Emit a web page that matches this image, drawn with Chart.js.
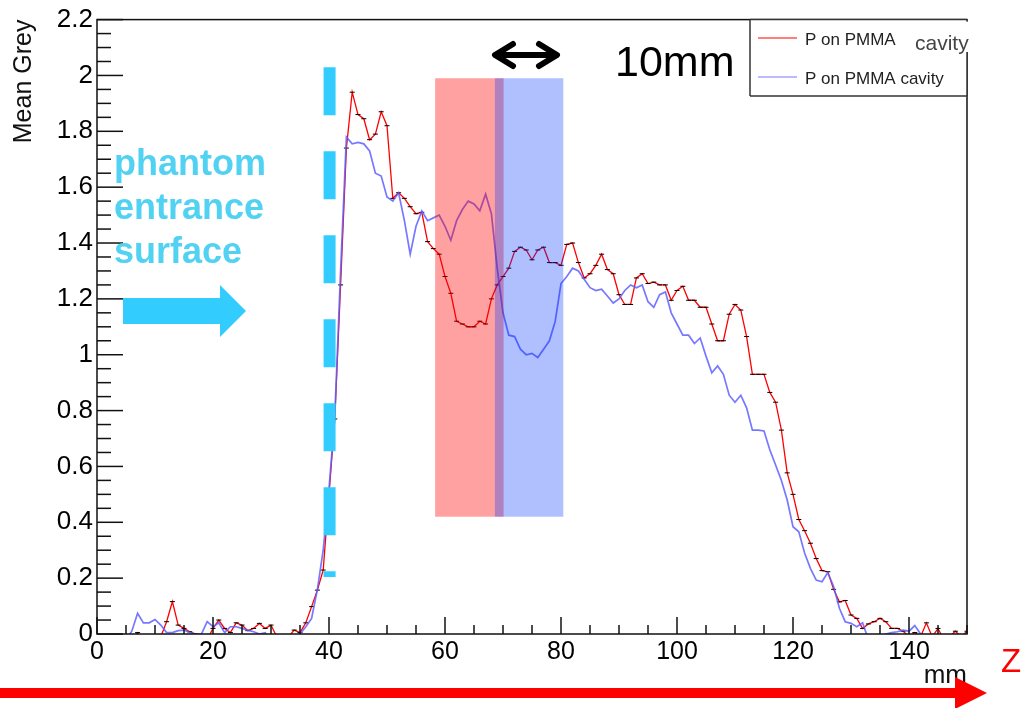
<!DOCTYPE html>
<html>
<head>
<meta charset="utf-8">
<title>Mean Grey vs depth</title>
<script src="https://cdn.jsdelivr.net/npm/chart.js@4.4.1/dist/chart.umd.min.js"></script>
<style>
  html, body { margin: 0; padding: 0; background: #fff; }
  canvas { display: block; }
</style>
</head>
<body>
<canvas id="chart" width="1025" height="708"></canvas>
<script>
// histogram bins are 1 mm wide, the first one sits at 5 mm
const firstBinMm = 5;

// P on PMMA (red, with black bin markers)
const redValues = [
  -0.03, -0.02, 0.005, -0.03, -0.04, -0.03, -0.01, 0.044, 0.116, 0.032,
  0.02, 0.008, 0.0, -0.03, -0.02, 0.02, 0.05, 0.02, 0.005, 0.04,
  0.032, 0.012, 0.02, 0.038, 0.02, 0.032, -0.01, -0.04, -0.01, 0.014,
  0.005, 0.04, 0.098, 0.157, 0.229, 0.50, 0.77, 1.25, 1.74, 1.94,
  1.86, 1.845, 1.77, 1.79, 1.87, 1.82, 1.56, 1.58, 1.56, 1.53,
  1.505, 1.51, 1.405, 1.38, 1.36, 1.28, 1.22, 1.12, 1.11, 1.10,
  1.10, 1.12, 1.11, 1.20, 1.25, 1.28, 1.31, 1.37, 1.385, 1.375,
  1.34, 1.375, 1.385, 1.33, 1.33, 1.32, 1.395, 1.40, 1.33, 1.275,
  1.29, 1.32, 1.36, 1.305, 1.29, 1.215, 1.18, 1.18, 1.275, 1.29,
  1.255, 1.26, 1.25, 1.25, 1.195, 1.23, 1.245, 1.195, 1.195, 1.17,
  1.17, 1.11, 1.05, 1.05, 1.145, 1.18, 1.16, 1.065, 0.93, 0.93,
  0.93, 0.865, 0.83, 0.73, 0.577, 0.50, 0.41, 0.37, 0.325, 0.27,
  0.227, 0.223, 0.16, 0.115, 0.12, 0.068, 0.056, 0.02, 0.036, 0.044,
  0.056, 0.044, 0.02, 0.02, 0.01, -0.01, 0.005, -0.01, 0.04, -0.01,
  0.02, -0.02, -0.01, 0.01, -0.01, 0.01
];

// P on PMMA cavity (blue)
const blueValues = [
  -0.02, 0.01, 0.074, 0.04, 0.04, 0.052, 0.032, 0.005, 0.005, 0.012,
  0.014, 0.005, 0.0, 0.0, 0.044, 0.026, 0.04, 0.005, 0.026, 0.026,
  0.02, 0.014, 0.008, 0.0, 0.005, -0.03, -0.05, -0.04, -0.03, -0.01,
  0.0, 0.026, 0.056, 0.16, 0.30, 0.52, 0.78, 1.30, 1.78, 1.755,
  1.76, 1.755, 1.73, 1.65, 1.64, 1.565, 1.55, 1.58, 1.48, 1.36,
  1.46, 1.515, 1.48, 1.49, 1.50, 1.46, 1.41, 1.48, 1.52, 1.55,
  1.54, 1.515, 1.575, 1.505, 1.31, 1.15, 1.07, 1.065, 1.02, 1.0,
  1.005, 0.99, 1.02, 1.05, 1.12, 1.255, 1.28, 1.31, 1.30, 1.27,
  1.24, 1.23, 1.235, 1.21, 1.185, 1.20, 1.23, 1.25, 1.24, 1.25,
  1.19, 1.17, 1.215, 1.225, 1.15, 1.11, 1.07, 1.07, 1.04, 1.06,
  0.995, 0.935, 0.96, 0.93, 0.855, 0.83, 0.855, 0.81, 0.73, 0.73,
  0.727, 0.66, 0.605, 0.55, 0.48, 0.384, 0.366, 0.29, 0.235, 0.193,
  0.187, 0.22, 0.17, 0.092, 0.044, 0.038, 0.026, 0.04, -0.02, -0.03,
  -0.01, 0.0, 0.005, 0.008, 0.014, 0.01, 0.03, 0.0, -0.03, -0.04,
  -0.04, -0.04, -0.04, -0.04, -0.04, -0.04
];

const seriesLabels = ['P on PMMA', 'P on PMMA cavity'];
const xRange = [0, 150];
const yRange = [0, 2.2];

const binMm = redValues.map((_, i) => firstBinMm + i);
const FONT = '"Liberation Sans", Arial, Helvetica, sans-serif';
const CYAN = '#33ccff';

const toPoints = values => values.map((v, i) => ({ x: binMm[i], y: v }));

const line = (ctx, x1, y1, x2, y2) => {
    ctx.beginPath();
    ctx.moveTo(x1, y1);
    ctx.lineTo(x2, y2);
    ctx.stroke();
};

// everything ROOT and the slide drew on top of the histograms
const decorations = {
    id: 'decorations',
    afterDraw(chart) {
        const ctx = chart.ctx;
        const xs = chart.scales.x;
        const ys = chart.scales.y;
        const { left, right, top, bottom } = chart.chartArea;
        ctx.save();

        // shaded cavity positions
        const band = (from, to, color) => {
            const x1 = xs.getPixelForValue(from), x2 = xs.getPixelForValue(to);
            const y1 = ys.getPixelForValue(1.99), y2 = ys.getPixelForValue(0.42);
            ctx.fillStyle = color;
            ctx.fillRect(x1, y1, x2 - x1, y2 - y1);
        };
        band(58.3, 70.1, 'rgba(255, 0, 0, 0.37)');
        band(68.6, 80.4, 'rgba(0, 52, 255, 0.31)');

        // frame and inward ticks
        ctx.strokeStyle = '#111';
        ctx.lineWidth = 1.5;
        ctx.strokeRect(left, top, right - left, bottom - top);
        for (let v = xRange[0]; v <= xRange[1]; v += 5) {
            const px = xs.getPixelForValue(v);
            line(ctx, px, bottom, px, bottom - (v % 20 === 0 ? 17 : 9));
        }
        for (let k = 0; k <= 44; k++) {
            const py = ys.getPixelForValue(k * 0.05);
            line(ctx, left, py, left + (k % 4 === 0 ? 26 : 14), py);
        }

        // phantom entrance surface
        const sx = xs.getPixelForValue(40.1);
        ctx.strokeStyle = CYAN;
        ctx.lineWidth = 12;
        ctx.setLineDash([48, 36]);
        line(ctx, sx, ys.getPixelForValue(2.029), sx, ys.getPixelForValue(0.204));
        ctx.setLineDash([]);

        ctx.fillStyle = '#52d2f2';
        ctx.font = 'bold 36px ' + FONT;
        ctx.textAlign = 'left';
        ctx.textBaseline = 'alphabetic';
        ctx.fillText('phantom', 114, 175);
        ctx.fillText('entrance', 114, 219);
        ctx.fillText('surface', 114, 263);

        ctx.fillStyle = CYAN;
        ctx.beginPath();
        ctx.moveTo(123, 298);
        ctx.lineTo(220, 298);
        ctx.lineTo(220, 285);
        ctx.lineTo(246, 311);
        ctx.lineTo(220, 337);
        ctx.lineTo(220, 324);
        ctx.lineTo(123, 324);
        ctx.closePath();
        ctx.fill();

        // legend box
        ctx.fillStyle = '#fff';
        ctx.fillRect(750, top, right - 750, 96 - top);
        ctx.strokeStyle = '#333';
        ctx.lineWidth = 1.5;
        line(ctx, 750, top, 750, 96);
        line(ctx, 750, 96, right, 96);
        line(ctx, 750, top, right, top);
        line(ctx, right, top, right, 96);
        ctx.font = '17px ' + FONT;
        chart.data.datasets.forEach((ds, i) => {
            const ly = 38 + i * 39;
            ctx.strokeStyle = ds.borderColor;
            ctx.lineWidth = 1.2;
            line(ctx, 758, ly, 797, ly);
            ctx.fillStyle = '#222';
            ctx.fillText(ds.label, 805, ly + 7);
        });

        // pasted "cavity" label covering the frame corner
        ctx.fillStyle = '#fff';
        ctx.fillRect(903, top + 2, 75, 52 - top - 2);
        ctx.fillStyle = '#444';
        ctx.font = '21px ' + FONT;
        ctx.fillText('cavity', 915, 50);

        // 10 mm scale marker
        ctx.strokeStyle = '#000';
        ctx.lineWidth = 6;
        ctx.lineCap = 'round';
        ctx.lineJoin = 'round';
        line(ctx, 496, 55, 556, 55);
        ctx.beginPath();
        ctx.moveTo(513, 44); ctx.lineTo(495, 55); ctx.lineTo(513, 66);
        ctx.moveTo(539, 44); ctx.lineTo(557, 55); ctx.lineTo(539, 66);
        ctx.stroke();
        ctx.lineCap = 'butt';
        ctx.fillStyle = '#000';
        ctx.font = '43px ' + FONT;
        ctx.fillText('10mm', 615, 76);

        // z direction arrow under the axis
        ctx.fillStyle = '#ff0000';
        ctx.fillRect(0, 688, 957, 10);
        ctx.beginPath();
        ctx.moveTo(955, 677);
        ctx.lineTo(987, 693);
        ctx.lineTo(955, 709);
        ctx.closePath();
        ctx.fill();
        ctx.font = '33px ' + FONT;
        ctx.fillText('Z', 1001, 672);

        ctx.restore();
    }
};

const ctx = document.getElementById('chart').getContext('2d');

new Chart(ctx, {
    type: 'line',
    data: {
        datasets: [
            {
                label: seriesLabels[0],
                data: toPoints(redValues),
                borderColor: '#ff0000',
                borderWidth: 1.3,
                pointStyle: 'line',
                pointRadius: 2.5,
                pointBorderColor: '#000',
                pointBorderWidth: 1,
                pointBackgroundColor: '#000',
                tension: 0,
                clip: 0,
                order: 1
            },
            {
                label: seriesLabels[1],
                data: toPoints(blueValues),
                borderColor: 'rgba(95, 95, 255, 0.85)',
                borderWidth: 1.7,
                pointRadius: 0,
                tension: 0,
                clip: 0,
                order: 0
            }
        ]
    },
    options: {
        responsive: false,
        animation: false,
        devicePixelRatio: 1,
        layout: { padding: { left: 0, top: 19, right: 58, bottom: 0 } },
        plugins: { legend: { display: false }, tooltip: { enabled: false } },
        scales: {
            x: {
                type: 'linear',
                min: xRange[0],
                max: xRange[1],
                afterFit: s => { s.height = 74; },
                grid: { display: false, drawTicks: false },
                border: { display: false },
                ticks: {
                    stepSize: 20,
                    includeBounds: false,
                    padding: 3,
                    maxRotation: 0,
                    autoSkip: false,
                    color: '#000',
                    font: { family: FONT, size: 25 },
                    callback: v => (v % 20 === 0 ? v : '')
                },
                title: {
                    display: true,
                    text: 'mm',
                    align: 'end',
                    color: '#111',
                    font: { family: FONT, size: 26 },
                    padding: { top: 0, bottom: 17 }
                }
            },
            y: {
                min: yRange[0],
                max: yRange[1],
                afterFit: s => { s.width = 97; },
                grid: { display: false, drawTicks: false },
                border: { display: false },
                ticks: {
                    stepSize: 0.2,
                    padding: 4,
                    color: '#000',
                    font: { family: FONT, size: 26 },
                    callback: v => Number(v.toFixed(1))
                },
                title: {
                    display: true,
                    text: 'Mean Grey',
                    align: 'end',
                    color: '#111',
                    font: { family: FONT, size: 25 },
                    padding: { top: 9, bottom: 0 }
                }
            }
        }
    },
    plugins: [decorations]
});
</script>
</body>
</html>
